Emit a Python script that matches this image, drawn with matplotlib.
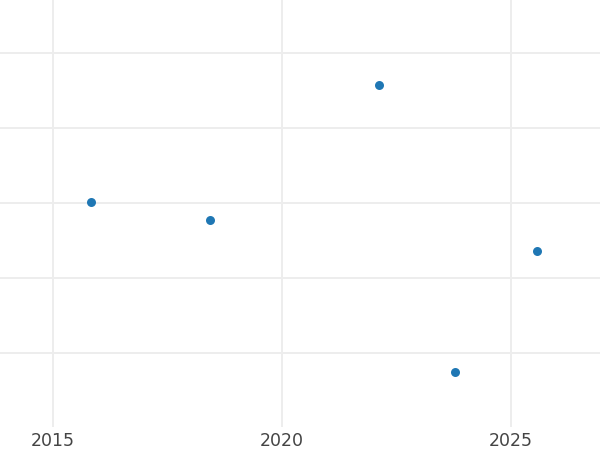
import matplotlib
matplotlib.use("Agg")
import matplotlib.pyplot as plt

# data
years = [2015.83, 2018.43, 2022.11, 2023.78, 2025.57]
values = [3.01, 2.77, 4.57, 0.75, 2.36]
xticks = [2015, 2020, 2025]
yticks = [1, 2, 3, 4, 5]

fig = plt.figure(figsize=(6, 4.5), dpi=100)
ax = fig.add_axes([0, 1 - 427 / 450, 1, 427 / 450])

ax.scatter(years, values, s=42, color="#1f77b4", zorder=3, linewidths=0)

ax.set_xlim(2013.84, 2026.94)
ax.set_ylim(0.013, 5.707)
ax.set_xticks(xticks)
ax.set_xticklabels([str(t) for t in xticks])
ax.set_yticks(yticks)
ax.set_yticklabels([])

ax.grid(True, color="#ededed", linewidth=1.4)
ax.set_axisbelow(True)
for s in ax.spines.values():
    s.set_visible(False)
ax.tick_params(axis="both", length=0)
ax.tick_params(axis="x", pad=3.5, labelsize=12.5, labelcolor="#444444")

fig.savefig("out.png", dpi=100)
